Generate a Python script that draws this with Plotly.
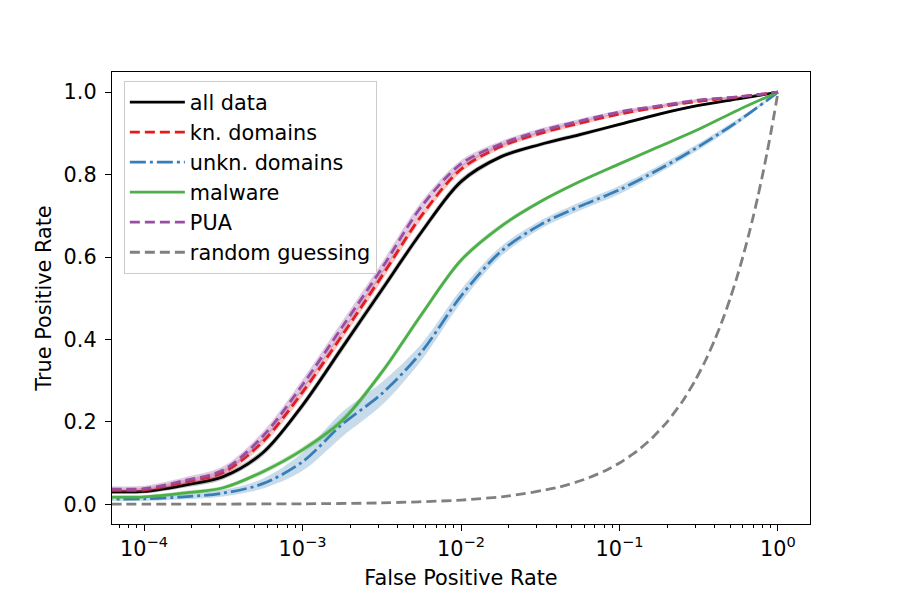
import plotly.graph_objects as go

# ---------------- data ----------------
# false positive rate grid (quarter decades), shared by the five ROC curves
fpr = [5.0e-5, 1.0e-4, 1.78e-4, 3.16e-4, 5.62e-4, 1.0e-3, 1.78e-3, 3.16e-3, 5.62e-3,
       1.0e-2, 1.78e-2, 3.16e-2, 5.62e-2, 0.1, 0.178, 0.316, 0.562, 1.0]

tpr_all = [0.031, 0.031, 0.046, 0.067, 0.125, 0.240, 0.380, 0.520, 0.660,
           0.783, 0.843, 0.873, 0.897, 0.922, 0.947, 0.968, 0.984, 1.0]
tpr_known = [0.035, 0.035, 0.053, 0.077, 0.152, 0.272, 0.410, 0.553, 0.700,
             0.813, 0.868, 0.900, 0.925, 0.947, 0.964, 0.978, 0.988, 1.0]
tpr_unknown = [0.013, 0.013, 0.018, 0.027, 0.050, 0.103, 0.194, 0.268, 0.369,
               0.505, 0.613, 0.678, 0.723, 0.763, 0.813, 0.868, 0.930, 1.0]
tpr_malware = [0.018, 0.018, 0.027, 0.040, 0.079, 0.132, 0.203, 0.320, 0.460,
               0.592, 0.674, 0.734, 0.783, 0.826, 0.868, 0.910, 0.957, 1.0]
tpr_pua = [0.038, 0.038, 0.057, 0.083, 0.165, 0.290, 0.430, 0.572, 0.722,
           0.826, 0.874, 0.906, 0.930, 0.952, 0.967, 0.981, 0.989, 1.0]

# half-widths of the shaded confidence bands
band_all = [0.005, 0.005, 0.006, 0.007, 0.008, 0.009, 0.010, 0.010, 0.009,
            0.008, 0.006, 0.005, 0.005, 0.004, 0.004, 0.003, 0.002, 0.0]
band_known = [0.005, 0.005, 0.006, 0.007, 0.009, 0.011, 0.011, 0.011, 0.010,
              0.008, 0.006, 0.005, 0.005, 0.004, 0.004, 0.003, 0.002, 0.0]
band_unknown = [0.005, 0.005, 0.006, 0.008, 0.012, 0.022, 0.030, 0.028, 0.020,
                0.016, 0.012, 0.010, 0.010, 0.010, 0.009, 0.008, 0.006, 0.0]
band_malware = [0.004, 0.004, 0.005, 0.005, 0.006, 0.007, 0.008, 0.008, 0.008,
                0.007, 0.006, 0.005, 0.004, 0.004, 0.004, 0.003, 0.002, 0.0]
band_pua = [0.007, 0.007, 0.008, 0.009, 0.011, 0.013, 0.014, 0.014, 0.012,
            0.009, 0.007, 0.006, 0.005, 0.004, 0.004, 0.003, 0.002, 0.0]

# random guessing: TPR equals FPR
guess_rate = [5.0e-5, 1.0e-4, 1.0e-3, 3.0e-3, 1.0e-2, 2.0e-2, 4.0e-2, 6.0e-2, 0.08,
              0.1, 0.13, 0.16, 0.2, 0.25, 0.3, 0.35, 0.4, 0.45, 0.5, 0.55, 0.6,
              0.65, 0.7, 0.75, 0.8, 0.85, 0.9, 0.95, 1.0]

series = [
    ("all data", tpr_all, band_all, "#000000", "rgba(0,0,0,0.25)", "solid"),
    ("kn. domains", tpr_known, band_known, "#e41a1c", "rgba(228,26,28,0.25)", "10px,5px"),
    ("unkn. domains", tpr_unknown, band_unknown, "#377eb8", "rgba(55,126,184,0.28)",
     "16px,4px,3px,4px"),
    ("malware", tpr_malware, band_malware, "#4daf4a", "rgba(77,175,74,0.3)", "solid"),
    ("PUA", tpr_pua, band_pua, "#984ea3", "rgba(152,78,163,0.3)", "10px,5px"),
]

x_ticks = [1e-4, 1e-3, 1e-2, 1e-1, 1.0]
x_ticktext = ["10<sup>−4</sup>", "10<sup>−3</sup>", "10<sup>−2</sup>", "10<sup>−1</sup>", "10<sup>0</sup>"]
y_ticks = [0.0, 0.2, 0.4, 0.6, 0.8, 1.0]

FONT = "DejaVu Sans"
FS = 20.8
LW = 2.8
SM = 0.9

fig = go.Figure()
for name, tpr, band, color, fillcol, dash in series:
    lo = [t - b for t, b in zip(tpr, band)]
    hi = [min(t + b, 1.0) for t, b in zip(tpr, band)]
    fig.add_trace(go.Scatter(x=fpr, y=lo, mode="lines", line=dict(width=0, shape="spline", smoothing=SM),
                             showlegend=False, hoverinfo="skip"))
    fig.add_trace(go.Scatter(x=fpr, y=hi, mode="lines", fill="tonexty", fillcolor=fillcol,
                             line=dict(width=0, shape="spline", smoothing=SM),
                             showlegend=False, hoverinfo="skip"))
    fig.add_trace(go.Scatter(x=fpr, y=tpr, mode="lines", name=name, legendgroup=name,
                             line=dict(color=color, width=LW, dash=dash, shape="spline", smoothing=SM)))

fig.add_trace(go.Scatter(x=guess_rate, y=guess_rate, mode="lines", name="random guessing",
                         legendgroup="random guessing",
                         line=dict(color="#808080", width=LW, dash="10px,5px", shape="spline", smoothing=0.6)))

minor_vals = [m * 10.0 ** e for e in range(-5, 1) for m in range(2, 10)]

fig.update_layout(
    width=900, height=600,
    margin=dict(l=112, r=90, t=72, b=76),
    paper_bgcolor="white", plot_bgcolor="white",
    font=dict(family=FONT, size=FS, color="black"),
    legend=dict(x=0.017, y=0.98, xanchor="left", yanchor="top",
                bgcolor="rgba(255,255,255,0.8)", bordercolor="#cccccc", borderwidth=1,
                font=dict(family=FONT, size=FS, color="black"),
                tracegroupgap=0, traceorder="grouped", itemwidth=55),
    xaxis=dict(type="log", range=[-4.202, 0.202], showline=True, linecolor="black", linewidth=1.3,
               mirror=True, ticks="outside", ticklen=6, tickwidth=1.3, tickcolor="black",
               tickmode="array", tickvals=x_ticks, ticktext=x_ticktext,
               showgrid=False, zeroline=False,
               minor=dict(tickmode="array", tickvals=minor_vals, ticks="outside", ticklen=3.3,
                          tickwidth=1, tickcolor="black", showgrid=False),
               title=dict(text="False Positive Rate", font=dict(family=FONT, size=FS), standoff=10)),
    yaxis=dict(range=[-0.048, 1.049], showline=True, linecolor="black", linewidth=1.3, mirror=True,
               ticks="outside", ticklen=6, tickwidth=1.3, tickcolor="black",
               tickmode="array", tickvals=y_ticks, tickformat=".1f", ticklabelstandoff=4,
               showgrid=False, zeroline=False,
               title=dict(text="True Positive Rate", font=dict(family=FONT, size=FS), standoff=6)),
)

fig.write_html("out.html")
